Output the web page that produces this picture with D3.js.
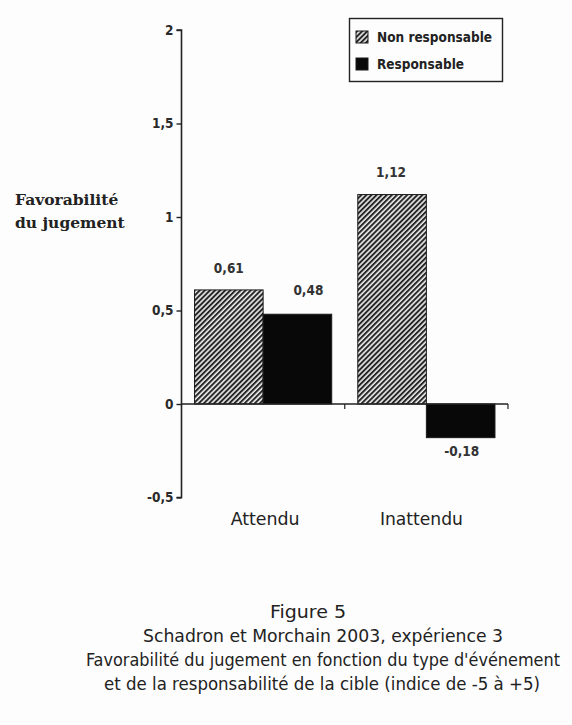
<!DOCTYPE html>
<html><head><meta charset="utf-8">
<script src="https://cdn.jsdelivr.net/npm/d3@7"></script>
<style>
html,body{margin:0;padding:0;background:#fdfdfd;}
svg{display:block;}
.sans{font-family:"DejaVu Sans Condensed","DejaVu Sans",sans-serif;fill:#222;}
.serif{font-family:"DejaVu Serif","Liberation Serif",serif;fill:#222;}
</style>
</head><body>
<script>
const categories = ["Attendu", "Inattendu"];
const seriesNames = ["Non responsable", "Responsable"];
const nonResponsable = [0.61, 1.12];
const responsable = [0.48, -0.18];
const valueLabels = [["0,61", "1,12"], ["0,48", "-0,18"]];
const yTicks = [-0.5, 0, 0.5, 1, 1.5, 2];
const yTickLabels = ["-0,5", "0", "0,5", "1", "1,5", "2"];
const yTitle = ["Favorabilité", "du jugement"];
const caption = ["Figure 5", "Schadron et Morchain 2003, expérience 3",
  "Favorabilité du jugement en fonction du type d'événement",
  "et de la responsabilité de la cible (indice de -5 à +5)"];

const W = 572, H = 725;
const svg = d3.select("body").append("svg").attr("width", W).attr("height", H);
svg.append("rect").attr("width", W).attr("height", H).attr("fill", "#fdfdfd");

const defs = svg.append("defs");
const pat = defs.append("pattern").attr("id", "hatch").attr("patternUnits", "userSpaceOnUse")
  .attr("width", 3.6).attr("height", 3.6).attr("patternTransform", "rotate(45)");
pat.append("rect").attr("width", 3.6).attr("height", 3.6).attr("fill", "#eeeeee");
pat.append("rect").attr("width", 2).attr("height", 3.6).attr("fill", "#262626");

const y = d3.scaleLinear().domain([-0.5, 2]).range([497.5, 30]);
const x0 = d3.scaleBand().domain(categories).range([181.5, 508]).paddingInner(0).paddingOuter(0);
const x1 = d3.scaleBand().domain(seriesNames).range([0, x0.bandwidth()]).paddingInner(0).paddingOuter(0.19);

const data = [];
categories.forEach((c, i) => {
  data.push({c, s: seriesNames[0], v: nonResponsable[i], lab: valueLabels[0][i]});
  data.push({c, s: seriesNames[1], v: responsable[i], lab: valueLabels[1][i]});
});

const g = svg.append("g");
g.selectAll("rect.bar").data(data).enter().append("rect").attr("class", "bar")
  .attr("x", d => x0(d.c) + x1(d.s))
  .attr("width", x1.bandwidth())
  .attr("y", d => y(Math.max(0, d.v)))
  .attr("height", d => Math.abs(y(d.v) - y(0)))
  .attr("fill", d => d.s === seriesNames[0] ? "url(#hatch)" : "#080808")
  .attr("stroke", "#1a1a1a").attr("stroke-width", 1);

// value labels
const labDx = {"0,61": 0, "0,48": 11, "1,12": -1, "-0,18": 1};
const labDy = {"0,61": -17, "0,48": -19, "1,12": -18, "-0,18": 18};
g.selectAll("text.val").data(data).enter().append("text").attr("class", "sans")
  .attr("x", d => x0(d.c) + x1(d.s) + x1.bandwidth() / 2 + labDx[d.lab])
  .attr("y", d => (d.v >= 0 ? y(d.v) : y(d.v)) + labDy[d.lab])
  .attr("text-anchor", "middle").attr("font-size", 13.5).attr("font-weight", "bold")
  .style("fill", "#333").text(d => d.lab);

// y axis
const yAxis = d3.axisLeft(y).tickValues(yTicks).tickFormat((d, i) => yTickLabels[i]).tickSize(5).tickPadding(3);
const ya = svg.append("g").attr("transform", "translate(181.5,0)").call(yAxis);
ya.select(".domain").attr("stroke", "#222").attr("stroke-width", 1.6).attr("d", `M-5,${y(2)}H0V${y(-0.5)}H-5`);
ya.selectAll(".tick line").attr("stroke", "#222").attr("stroke-width", 1.4);
ya.selectAll(".tick text").attr("class", "sans").attr("font-size", 13.5).attr("font-weight", "bold")
  .attr("font-family", null).style("fill", "#2a2a2a");

// x axis at zero
const xTickPos = [x0.range()[0] + x0.step(), x0.range()[1]];
const xa = svg.append("g");
xa.append("line").attr("x1", 181.5).attr("x2", 508).attr("y1", y(0)).attr("y2", y(0))
  .attr("stroke", "#222").attr("stroke-width", 1.4);
xa.selectAll("line.t").data(xTickPos).enter().append("line")
  .attr("x1", d => d).attr("x2", d => d).attr("y1", y(0)).attr("y2", y(0) + 5)
  .attr("stroke", "#222").attr("stroke-width", 1.2);
const catLen = {"Attendu": 69, "Inattendu": 83};
const catDx = {"Attendu": 2, "Inattendu": -5};
xa.selectAll("text").data(categories).enter().append("text").attr("class", "sans")
  .attr("x", d => x0(d) + x0.bandwidth() / 2 + catDx[d])
  .attr("y", 525).attr("text-anchor", "middle").attr("font-size", 17)
  .attr("textLength", d => catLen[d]).attr("lengthAdjust", "spacingAndGlyphs").text(d => d);

// y title
svg.selectAll("text.yt").data(yTitle).enter().append("text").attr("class", "serif")
  .attr("x", 15).attr("y", (d, i) => 205 + i * 23)
  .attr("font-size", 15.5).attr("font-weight", "bold").text(d => d);

// legend
const lg = svg.append("g");
lg.append("rect").attr("x", 349.5).attr("y", 18.5).attr("width", 153).attr("height", 63)
  .attr("fill", "#fdfdfd").attr("stroke", "#222").attr("stroke-width", 1.4);
seriesNames.forEach((s, i) => {
  lg.append("rect").attr("x", 356).attr("y", 31 + i * 27).attr("width", 12).attr("height", 12)
    .attr("fill", i === 0 ? "url(#hatch)" : "#080808").attr("stroke", "#1a1a1a");
  lg.append("text").attr("class", "sans").attr("x", 377).attr("y", 42 + i * 27)
    .attr("font-size", 13.5).attr("font-weight", "bold").text(s);
});

// caption
const capY = [618, 642, 666, 690];
const capX = [308, 323, 323, 322];
const capLen = [76, 360, 474, 436];
svg.selectAll("text.cap").data(caption).enter().append("text").attr("class", "sans")
  .attr("x", (d, i) => capX[i]).attr("y", (d, i) => capY[i]).attr("text-anchor", "middle")
  .attr("font-size", 17).attr("textLength", (d, i) => capLen[i]).attr("lengthAdjust", "spacingAndGlyphs")
  .text(d => d);
</script>
</body></html>
